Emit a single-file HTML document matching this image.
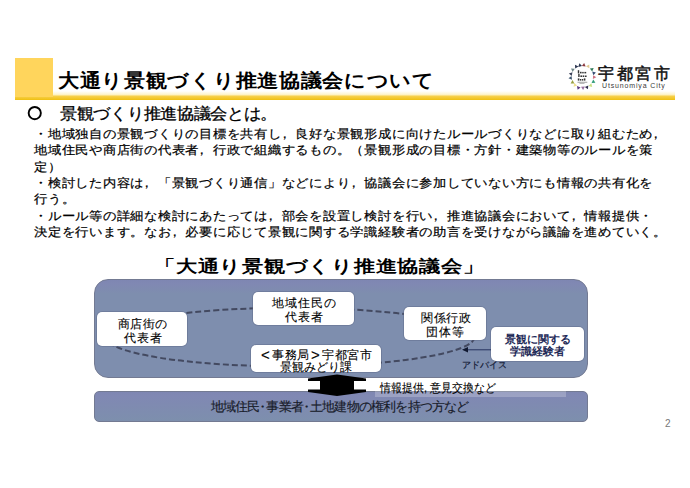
<!DOCTYPE html>
<html><head><meta charset="utf-8">
<style>
html,body{margin:0;padding:0;}
body{width:690px;height:488px;overflow:hidden;background:#fff;position:relative;font-family:"Liberation Sans",sans-serif;color:#000;}
.a{position:absolute;white-space:nowrap;line-height:1;}
#yb{left:15px;top:58px;width:38px;height:38.5px;background:#FFD55C;}
#yl{left:15px;top:91px;width:660px;height:8.6px;background:linear-gradient(to bottom,rgba(255,255,255,0) 0%,#FEF4CC 38%,#F7CF48 60%,#EFC010 100%);}
#title{left:58px;top:71px;font-size:21px;font-weight:bold;letter-spacing:0.7px;-webkit-text-stroke:0px;transform:scaleY(0.9);transform-origin:0 0;}
#h1{left:60px;top:106px;font-size:17px;letter-spacing:-0.3px;-webkit-text-stroke:0.3px;transform:scaleY(0.93);transform-origin:0 0;}
#circ{left:27.2px;top:105.6px;width:11.4px;height:11.2px;border:1.8px solid #000;border-radius:50%;}
.bt{font-size:13px;letter-spacing:0.76px;left:34px;-webkit-text-stroke:0.22px;transform:scaleY(0.9);transform-origin:0 0;}
#dtitle{left:154px;top:257.5px;font-size:21px;font-weight:bold;letter-spacing:0.75px;-webkit-text-stroke:0px;transform:scaleY(0.8);transform-origin:0 0;}
#big{left:94px;top:279px;width:492px;height:96.5px;background:linear-gradient(to bottom,#7E86B2 0px,#8088B3 4px,#7E8EAE 14px,#7E8EAE 100%);border:1px solid #737A92;border-radius:14px;}
#bar{left:94px;top:391px;width:492px;height:29px;background:linear-gradient(to bottom,#7E86B2 0px,#8088B3 4px,#7D8FAD 100%);border:1px solid #737A92;border-radius:5px;}
.c{position:relative;left:-4px;}
.br{display:inline-block;width:12.5px;font-size:15px;text-align:center;-webkit-text-stroke:0.1px;vertical-align:top;margin-top:-2px;}
.wb{background:#fff;border-radius:5px;box-shadow:0 0 0 0.8px rgba(90,100,130,0.5);}
.bx{font-size:12px;-webkit-text-stroke:0.1px;}
</style></head><body>
<div class="a" id="yl"></div>
<div class="a" id="yb"></div>
<div class="a" id="title">大通り景観づくり推進協議会について</div>

<svg class="a" style="left:0;top:98px" width="60" height="30"><circle cx="34.75" cy="15.1" r="6.1" fill="none" stroke="#000" stroke-width="1.9"/></svg>
<div class="a" id="h1">景観づくり推進協議会とは。</div>

<div class="a bt" style="top:127.6px">・地域独自の景観づくりの目標を共有し<span class="c">，</span>良好な景観形成に向けたルールづくりなどに取り組むため<span class="c">，</span></div>
<div class="a bt" style="top:144px">地域住民や商店街の代表者<span class="c">，</span>行政で組織するもの。（景観形成の目標・方針・建築物等のルールを策</div>
<div class="a bt" style="top:160.5px">定）</div>
<div class="a bt" style="top:176.6px">・検討した内容は<span class="c">，</span>「景観づくり通信」などにより<span class="c">，</span>協議会に参加していない方にも情報の共有化を</div>
<div class="a bt" style="top:193px">行う。</div>
<div class="a bt" style="top:209.5px">・ルール等の詳細な検討にあたっては<span class="c">，</span>部会を設置し検討を行い<span class="c">，</span>推進協議会において<span class="c">，</span>情報提供・</div>
<div class="a bt" style="top:225.8px">決定を行います。なお<span class="c">，</span>必要に応じて景観に関する学識経験者の助言を受けながら議論を進めていく。</div>

<div class="a" id="dtitle">「大通り景観づくり推進協議会」</div>
<div class="a" id="big"></div>
<svg class="a" style="left:0;top:0" width="690" height="488">
<ellipse cx="290.2" cy="337.1" rx="184.3" ry="29.3" fill="none" stroke="#434960" stroke-width="2" stroke-dasharray="6 3"/>
</svg>
<div class="a wb" style="left:96.5px;top:311.5px;width:90.5px;height:34px;"></div>
<div class="a bx" style="left:117.5px;top:318px;letter-spacing:0.6px">商店街の</div>
<div class="a bx" style="left:124px;top:331.5px;letter-spacing:0.9px">代表者</div>

<div class="a wb" style="left:253px;top:291.7px;width:100.5px;height:33px;"></div>
<div class="a bx" style="left:272px;top:297px;letter-spacing:0.9px">地域住民の</div>
<div class="a bx" style="left:285px;top:310.5px;letter-spacing:0.9px">代表者</div>

<div class="a wb" style="left:404px;top:307.3px;width:81.6px;height:32.7px;"></div>
<div class="a bx" style="left:421px;top:312.4px;letter-spacing:0.6px">関係行政</div>
<div class="a bx" style="left:426px;top:326px;letter-spacing:1.2px">団体等</div>

<div class="a wb" style="left:490.8px;top:327.2px;width:93.7px;height:33.5px;"></div>
<div class="a bx" style="left:505px;top:333.6px;font-size:11px;font-weight:bold;color:#1F2B58;-webkit-text-stroke:0px">景観に関する</div>
<div class="a bx" style="left:510px;top:346.3px;font-size:11px;font-weight:bold;color:#1F2B58;-webkit-text-stroke:0px">学識経験者</div>

<div class="a wb" style="left:250.7px;top:345.4px;width:130.5px;height:27px;"></div>
<div class="a bx" style="left:259.5px;top:348.6px;letter-spacing:0.5px"><span class="br">&lt;</span>事務局<span class="br">&gt;</span>宇都宮市</div>
<div class="a bx" style="left:280px;top:360.9px;letter-spacing:-0.1px">景観みどり課</div>

<div class="a" id="bar"></div>
<div class="a" style="left:375px;top:378px;width:191px;height:19px;background:rgba(255,255,255,0.22)"></div>
<div class="a" style="left:375px;top:378px;width:191px;height:13px;background:#fff"></div>
<div class="a" style="left:210.5px;top:400px;font-size:13px;letter-spacing:-0.8px;color:#181C2A;-webkit-text-stroke:0.15px">地域住民<span style="letter-spacing:-3px;margin-left:-3px">・</span>事業者<span style="letter-spacing:-3px;margin-left:-3px">・</span>土地建物の権利を持つ方など</div>
<div class="a" style="left:380px;top:381.5px;font-size:11px;-webkit-text-stroke:0.1px;transform:scaleY(1.1);transform-origin:0 0;">情報提供, 意見交換など</div>
<div class="a" style="left:462px;top:361px;font-size:9px;color:#141B36;-webkit-text-stroke:0.2px">アドバイス</div>

<svg class="a" style="left:0;top:0" width="690" height="488">
<polygon points="337,374.5 366,378.5 366,381 354,381 354,389.5 366,389.5 366,392 337,396 308,392 308,389.5 320,389.5 320,381 308,381 308,378.5" fill="#000"/>
<line x1="491" y1="349.8" x2="466" y2="349.8" stroke="#26325E" stroke-width="1"/>
<polygon points="462,349.8 468,347 468,352.6" fill="#101830"/>
</svg>

<div class="a" style="left:665px;top:419px;font-size:10px;color:#777">2</div>

<!-- logo -->
<svg class="a" style="left:567px;top:62px" width="31" height="30" viewBox="0 0 31 30"><polygon points="8.02,2.74 11.40,4.51 8.18,6.55" fill="#2B3550"/><polygon points="12.40,1.26 15.01,4.04 11.30,4.91" fill="#2B3550"/><polygon points="17.17,0.92 18.66,4.42 14.87,3.96" fill="#8B3A40"/><polygon points="22.27,2.38 22.33,6.19 19.00,4.33" fill="#E0C890"/><polygon points="26.66,6.07 25.17,9.58 22.87,6.54" fill="#2F7A58"/><polygon points="28.91,10.47 26.30,13.24 25.20,9.59" fill="#3A4F75"/><polygon points="29.30,15.21 25.90,16.95 26.10,13.14" fill="#D07080"/><polygon points="28.39,20.65 24.59,20.95 26.23,17.51" fill="#2E9A76"/><polygon points="25.19,25.02 21.55,23.88 24.36,21.30" fill="#C8E080"/><polygon points="20.85,27.23 17.82,24.92 21.33,23.45" fill="#303050"/><polygon points="16.10,28.00 14.05,24.79 17.85,24.62" fill="#9A70A0"/><polygon points="10.65,27.87 9.98,24.12 13.57,25.42" fill="#5A3A80"/><polygon points="6.55,24.76 7.29,21.02 10.16,23.52" fill="#F0E090"/><polygon points="3.60,21.40 5.50,18.10 7.41,21.40" fill="#9AA040"/><polygon points="1.52,16.28 4.55,13.97 5.03,17.75" fill="#405870"/><polygon points="1.85,11.53 5.48,10.37 4.67,14.10" fill="#3A4058"/><polygon points="4.00,6.44 7.79,6.77 5.61,9.89" fill="#708888"/><g fill="#333"><rect x="10.8" y="8.2" width="1.4" height="3.2"/><rect x="13" y="9.8" width="1.6" height="1.6"/><rect x="15.2" y="9.9" width="1.5" height="1.5"/><rect x="17.4" y="9.9" width="1.8" height="1.5"/><rect x="11.2" y="11.799999999999999" width="1.4" height="3.2"/><rect x="13.4" y="13.399999999999999" width="1.8" height="1.6"/><rect x="15.8" y="13.399999999999999" width="1.5" height="1.6"/><rect x="18" y="13.5" width="1.6" height="1.5"/><rect x="10.8" y="16.4" width="1.6" height="2.2"/><rect x="13" y="17.0" width="1.2" height="1.6"/><rect x="14.8" y="17.0" width="1.4" height="1.6"/><rect x="16.8" y="16.4" width="1.6" height="2.2"/></g><rect x="10.5" y="19.8" width="9.8" height="0.8" fill="#888"/><rect x="12.5" y="21.2" width="5" height="0.8" fill="#aaa"/></svg>
<div class="a" style="left:598px;top:66px;font-size:16px;letter-spacing:2.5px;color:#111;-webkit-text-stroke:0.5px">宇都宮市</div>
<div class="a" style="left:602px;top:82px;font-size:7px;letter-spacing:0.85px;color:#3a3a3a;-webkit-text-stroke:0px">Utsunomiya City</div>
</body></html>
